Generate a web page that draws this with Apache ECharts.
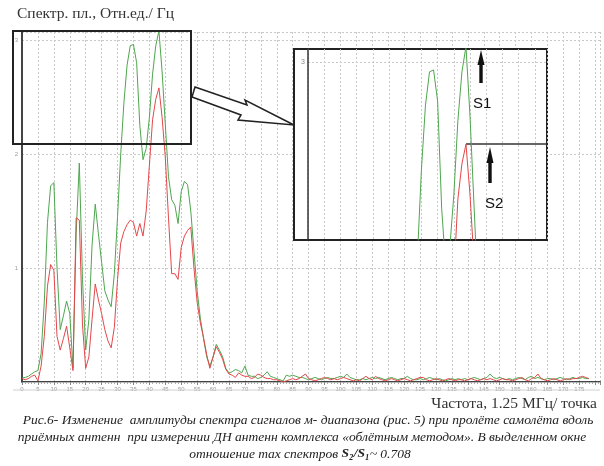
<!DOCTYPE html>
<html>
<head>
<meta charset="utf-8">
<script src="https://cdn.jsdelivr.net/npm/echarts@6/dist/echarts.min.js"></script>
<style>
  html, body { margin: 0; padding: 0; background: #fff; }
  #chart { width: 604px; height: 466px; }
</style>
</head>
<body>
<div id="chart"></div>
<script>
  // спектр сигнала S1 (зелёный) и S2 (красный), шаг 1 точка = 1.25 МГц
  var greenS1 = [
    0.035, 0.04, 0.05, 0.07, 0.09, 0.10, 0.25, 0.70, 1.40, 1.72,
    1.75, 1.00, 0.46, 0.58, 0.71, 0.60, 0.12, 1.30, 1.92, 0.90,
    0.28, 0.55, 1.20, 1.56, 1.30, 1.05, 0.80, 0.72, 0.66, 0.95,
    1.45, 2.00, 2.45, 2.78, 2.95, 2.96, 2.80, 2.25, 1.95, 2.05,
    2.32, 2.70, 2.95, 3.08, 2.72, 2.26, 1.80, 1.60, 1.55, 1.39,
    1.67, 1.76, 1.73, 1.50, 1.15, 0.80, 0.56, 0.38, 0.22, 0.14,
    0.22, 0.33, 0.28, 0.22, 0.12, 0.08, 0.09, 0.11, 0.10, 0.08,
    0.14, 0.06, 0.05, 0.05, 0.03, 0.04, 0.06, 0.09, 0.05, 0.04,
    0.03, 0.02, 0.01, 0.06, 0.05, 0.06, 0.05, 0.04, 0.04, 0.03,
    0.02, 0.03, 0.04, 0.03, 0.02, 0.03, 0.04, 0.03, 0.03, 0.04,
    0.05, 0.04, 0.07, 0.04, 0.03, 0.02, 0.02, 0.03, 0.02, 0.03,
    0.04, 0.03, 0.04, 0.03, 0.02, 0.03, 0.04, 0.03, 0.02, 0.03,
    0.03, 0.05, 0.03, 0.02, 0.02, 0.03, 0.02, 0.03, 0.04, 0.03,
    0.02, 0.03, 0.02, 0.01, 0.02, 0.03, 0.02, 0.03, 0.02, 0.03,
    0.02, 0.03, 0.04, 0.03, 0.02, 0.03, 0.04, 0.07, 0.04, 0.03,
    0.04, 0.03, 0.02, 0.03, 0.02, 0.03, 0.04, 0.03, 0.02, 0.04,
    0.05, 0.03, 0.04, 0.03, 0.02, 0.03, 0.03, 0.02, 0.03, 0.04,
    0.03, 0.02, 0.03, 0.04, 0.03, 0.03, 0.04, 0.03, 0.03
  ]
  var redS2 = [
    0.03, 0.02, 0.03, 0.05, 0.06, 0.01, 0.14, 0.40, 0.84, 1.03,
    0.98, 0.40, 0.28, 0.38, 0.49, 0.30, 0.10, 1.44, 1.42, 0.50,
    0.12, 0.22, 0.55, 0.86, 0.72, 0.60, 0.46, 0.36, 0.30, 0.48,
    0.90, 1.22, 1.32, 1.38, 1.42, 1.40, 1.28, 1.39, 1.28, 1.50,
    1.90, 2.30, 2.48, 2.58, 2.32, 1.97, 1.44, 0.95, 0.95, 0.90,
    1.18, 1.28, 1.33, 1.36, 1.00, 0.70, 0.52, 0.39, 0.24, 0.12,
    0.22, 0.31, 0.26, 0.20, 0.11, 0.07, 0.06, 0.04, 0.08, 0.06,
    0.05, 0.05, 0.03, 0.04, 0.07, 0.06, 0.04, 0.03, 0.03, 0.02,
    0.02, 0.01, 0.00, 0.01, 0.02, 0.03, 0.02, 0.03, 0.05, 0.07,
    0.03, 0.02, 0.01, 0.02, 0.03, 0.04, 0.03, 0.02, 0.03, 0.02,
    0.03, 0.04, 0.03, 0.02, 0.01, 0.02, 0.01, 0.03, 0.05, 0.03,
    0.02, 0.05, 0.03, 0.02, 0.01, 0.02, 0.03, 0.02, 0.01, 0.02,
    0.03, 0.02, 0.01, 0.02, 0.03, 0.04, 0.04, 0.02, 0.01, 0.02,
    0.03, 0.02, 0.01, 0.02, 0.03, 0.02, 0.01, 0.02, 0.02, 0.01,
    0.02, 0.03, 0.02, 0.01, 0.02, 0.03, 0.02, 0.03, 0.02, 0.01,
    0.02, 0.03, 0.02, 0.02, 0.01, 0.02, 0.03, 0.04, 0.02, 0.01,
    0.03, 0.04, 0.07, 0.03, 0.02, 0.01, 0.02, 0.03, 0.02, 0.01,
    0.02, 0.03, 0.02, 0.03, 0.03, 0.04, 0.05, 0.04, 0.03
  ]
  var xTickStep = 5
  var yTicks = [1, 2, 3]
  var insetYLevel = 3

  function toPairs(arr) {
    var out = []
    for (var i = 0; i < arr.length; i++) {
      out.push([i, arr[i]])
    }
    return out
  }

  var s2Peak = Math.max.apply(null, redS2)
  var s2PeakX = redS2.indexOf(s2Peak)
  var insetXMax = 63

  var GREEN = '#4ea64e'
  var RED = '#e4474a'
  var grid = '#c8c8c8'
  var captionFont = 'italic 13.5px "Liberation Serif"'

  var chart = echarts.init(document.getElementById('chart'))
  var option = {
    animation: false,
    backgroundColor: '#fff',
    textStyle: { fontFamily: 'Liberation Sans' },
    title: [
      {
        text: 'Спектр. пл., Отн.ед./ Гц',
        left: 17, top: 6, padding: 0,
        textStyle: { fontFamily: 'Liberation Serif', fontSize: 15.5, fontWeight: 'normal', color: '#333' }
      },
      {
        text: 'Частота, 1.25 МГц/ точка',
        right: 7, top: 396, padding: 0,
        textStyle: { fontFamily: 'Liberation Serif', fontSize: 15.5, fontWeight: 'normal', color: '#333' }
      }
    ],
    grid: [
      { left: 22, right: 4, top: 32, bottom: 84 },
      { left: 308, width: 239, top: 49, height: 191, z: 5 }
    ],
    xAxis: [
      {
        type: 'value', gridIndex: 0, min: 0, max: 181.5, interval: xTickStep,
        axisLine: { onZero: false, lineStyle: { color: '#444', width: 2 } },
        axisTick: { length: 3, lineStyle: { color: '#888' } },
        minorTick: { show: true, splitNumber: 5, length: 2, lineStyle: { color: '#aaa' } },
        axisLabel: {
          fontSize: 6, color: '#999', margin: 4,
          formatter: function (v) { return v > 175 ? '' : v }
        },
        splitLine: { show: true, lineStyle: { color: grid, type: [2, 2] } }
      },
      {
        type: 'value', gridIndex: 0, position: 'top', min: 0, max: 181.5,
        axisLine: { lineStyle: { color: '#bbb', width: 1 } },
        axisTick: { show: false }, axisLabel: { show: false }, splitLine: { show: false }
      },
      {
        type: 'value', gridIndex: 1, min: 4, max: insetXMax, interval: 4, z: 5,
        axisLine: { show: false }, axisTick: { show: false }, axisLabel: { show: false },
        splitLine: { show: true, lineStyle: { color: grid, type: [2, 2] } }
      }
    ],
    yAxis: [
      {
        type: 'value', gridIndex: 0, min: 0, max: 3.07, interval: 1,
        axisLine: { show: true, lineStyle: { color: '#444', width: 2 } },
        axisTick: { show: false },
        axisLabel: {
          fontSize: 6, color: '#999', margin: 4,
          formatter: function (v) { return yTicks.indexOf(v) >= 0 ? v : '' }
        },
        splitLine: { show: true, lineStyle: { color: grid, type: [2, 2] } }
      },
      {
        type: 'value', gridIndex: 1, min: 2.09, max: 3.067, z: 5,
        axisLine: { show: true, lineStyle: { color: '#333', width: 1.5 } },
        axisTick: { show: false }, axisLabel: { show: false }, splitLine: { show: false }
      }
    ],
    series: [
      {
        name: 'S1', type: 'line', xAxisIndex: 0, yAxisIndex: 0, data: toPairs(greenS1),
        showSymbol: false, lineStyle: { color: GREEN, width: 1 }, z: 2
      },
      {
        name: 'S2', type: 'line', xAxisIndex: 0, yAxisIndex: 0, data: toPairs(redS2),
        showSymbol: false, lineStyle: { color: RED, width: 1 }, z: 2
      },
      {
        name: 'S1 окно', type: 'line', xAxisIndex: 2, yAxisIndex: 1, data: toPairs(greenS1),
        showSymbol: false, lineStyle: { color: GREEN, width: 1 }, z: 6, clip: true,
        markLine: {
          silent: true, symbol: 'none', animation: false,
          lineStyle: { color: grid, type: [2, 2], width: 1 },
          label: { position: 'start', formatter: '3', fontSize: 7, color: '#888', distance: 3 },
          data: [{ yAxis: insetYLevel }]
        }
      },
      {
        name: 'S2 окно', type: 'line', xAxisIndex: 2, yAxisIndex: 1, data: toPairs(redS2),
        showSymbol: false, lineStyle: { color: RED, width: 1 }, z: 6, clip: true,
        markLine: {
          silent: true, symbol: 'none', animation: false,
          lineStyle: { color: '#333', type: 'solid', width: 1.5 },
          label: { show: false },
          data: [[{ coord: [s2PeakX, s2Peak] }, { coord: [insetXMax, s2Peak] }]]
        }
      }
    ],
    graphic: [
      // выделенное окно
      { type: 'rect', z: 3, shape: { x: 13, y: 31, width: 178, height: 113 },
        style: { fill: null, stroke: '#222', lineWidth: 2 } },
      // стрелка к окну
      { type: 'polygon', z: 3,
        shape: { points: [[195, 87], [247, 105], [245, 100], [294, 125], [238, 120], [241, 115], [192, 97]] },
        style: { fill: '#fff', stroke: '#222', lineWidth: 1.5 } },
      // фон увеличенного окна
      { type: 'rect', z: 4, shape: { x: 294, y: 49, width: 253, height: 191 },
        style: { fill: '#fff', stroke: '#222', lineWidth: 2 } },
      { type: 'line', z: 1, shape: { x1: 13, y1: 390, x2: 600, y2: 390 },
        style: { stroke: '#d0d0d0', lineWidth: 1 } },
      // стрелки S1, S2
      { type: 'polygon', z: 8,
        shape: { points: [[481, 50], [484.5, 65], [482.7, 65], [482.7, 83], [479.3, 83], [479.3, 65], [477.5, 65]] },
        style: { fill: '#111' } },
      { type: 'polygon', z: 8,
        shape: { points: [[490, 147], [493.5, 163], [491.7, 163], [491.7, 183], [488.3, 183], [488.3, 163], [486.5, 163]] },
        style: { fill: '#111' } },
      { type: 'text', z: 8, x: 473, y: 96,
        style: { text: 'S1', font: '15px "Liberation Sans"', fill: '#111' } },
      { type: 'text', z: 8, x: 485, y: 196,
        style: { text: 'S2', font: '15px "Liberation Sans"', fill: '#111' } },
      // подпись к рисунку
      { type: 'text', z: 8, x: 308, y: 413,
        style: { text: 'Рис.6- Изменение  амплитуды спектра сигналов м- диапазона (рис. 5) при пролёте самолёта вдоль',
          font: captionFont, fill: '#222', align: 'center' } },
      { type: 'text', z: 8, x: 302, y: 430,
        style: { text: 'приёмных антенн  при измерении ДН антенн комплекса «облётным методом». В выделенном окне',
          font: captionFont, fill: '#222', align: 'center' } },
      { type: 'text', z: 8, x: 300, y: 447,
        style: { text: 'отношение max спектров {b|S₂/S₁}~ 0.708',
          font: captionFont, fill: '#222', align: 'center',
          rich: { b: { fontFamily: 'Liberation Serif', fontStyle: 'italic', fontWeight: 'bold', fontSize: 13.5, fill: '#222' } } } }
    ]
  }
  chart.setOption(option)
</script>
</body>
</html>
